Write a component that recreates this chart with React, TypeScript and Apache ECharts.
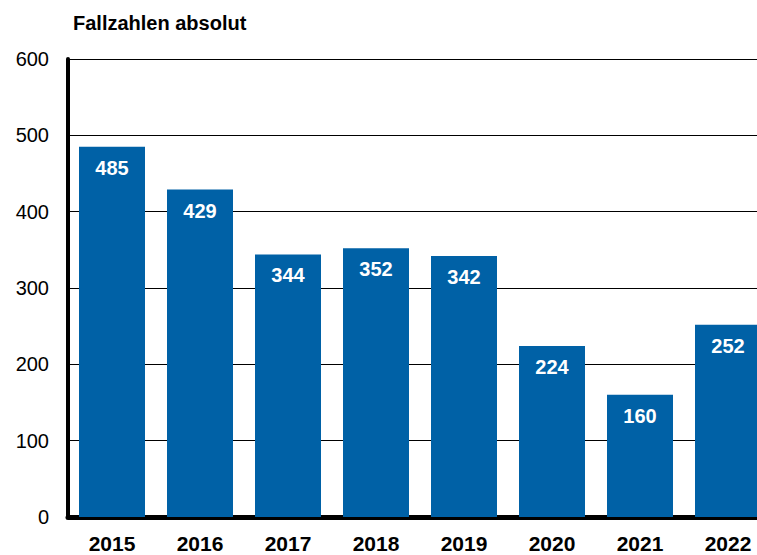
import React, { useEffect, useRef } from "react";
import * as echarts from "echarts";

const categories = ["2015", "2016", "2017", "2018", "2019", "2020", "2021", "2022"];
const values = [485, 429, 344, 352, 342, 224, 160, 252];
const yTicks = { min: 0, max: 600, interval: 100 };
const titleText = "Fallzahlen absolut";

export default function App() {
  const ref = useRef<HTMLDivElement>(null);
  useEffect(() => {
    document.body.style.margin = "0";
    const chart = echarts.init(ref.current!, null, { renderer: "svg" });
    const font = "Liberation Sans, Arial, sans-serif";
    chart.setOption({
      animation: false,
      backgroundColor: "#ffffff",
      title: {
        text: titleText,
        left: 68,
        top: 8,
        textStyle: { fontFamily: font, fontSize: 20, fontWeight: "bold", color: "#000" },
      },
      grid: { left: 68, right: 0, top: 59, bottom: 38, containLabel: false, outerBoundsMode: "none" },
      xAxis: {
        type: "category",
        data: categories,
        axisLine: { show: true, lineStyle: { color: "#000", width: 5 } },
        axisTick: { show: false },
        axisLabel: {
          fontFamily: font,
          fontSize: 21,
          fontWeight: "bold",
          color: "#000",
          margin: 16,
        },
      },
      yAxis: {
        type: "value",
        min: yTicks.min,
        max: yTicks.max,
        interval: yTicks.interval,
        axisLine: { show: true, lineStyle: { color: "#000", width: 4 } },
        axisTick: { show: false },
        splitLine: { show: true, lineStyle: { color: "#000", width: 1 } },
        axisLabel: {
          fontFamily: font,
          fontSize: 20,
          color: "#000",
          margin: 19,
        },
      },
      series: [
        {
          type: "bar",
          data: values,
          barCategoryGap: "25%",
          itemStyle: { color: "#0061A6" },
          label: {
            show: true,
            position: "insideTop",
            distance: 11,
            fontFamily: font,
            fontSize: 20,
            fontWeight: "bold",
            color: "#ffffff",
          },
        },
      ],
    });
    return () => chart.dispose();
  }, []);
  return (
    <div style={{ position: "fixed", left: 0, top: 0, width: 757, height: 555, overflow: "hidden", background: "#fff" }}>
      <div ref={ref} style={{ width: 772, height: 555 }} />
    </div>
  );
}
